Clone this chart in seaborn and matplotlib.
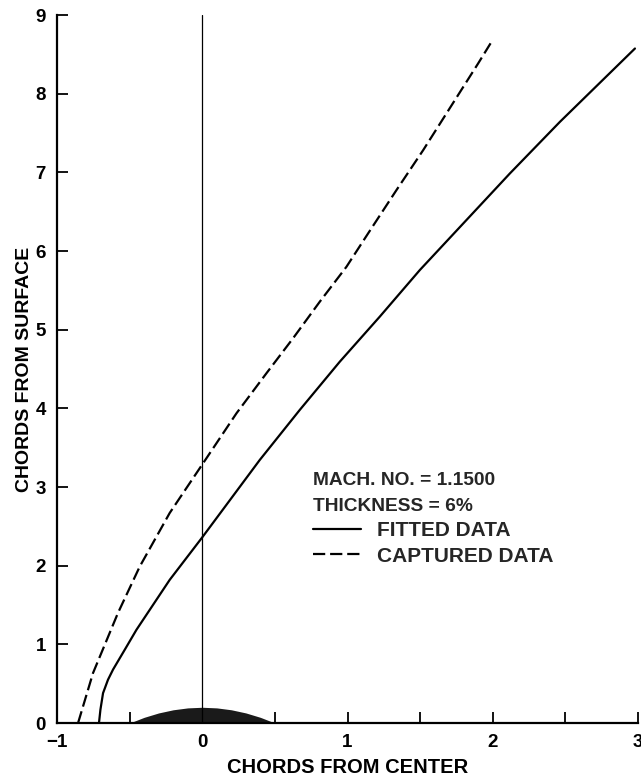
import matplotlib
matplotlib.use("Agg")
import matplotlib.pyplot as plt
import pandas as pd
import seaborn as sns
from matplotlib.ticker import MultipleLocator

# Shock-wave trace above a biconvex section
fitted_x = [-0.711, -0.701, -0.683, -0.649, -0.614, -0.534, -0.453, -0.224, 0.0,
            0.396, 0.671, 0.947, 1.222, 1.498, 2.118, 2.462, 2.979]
fitted_y = [0.0, 0.17, 0.38, 0.55, 0.68, 0.93, 1.185, 1.82, 2.36,
            3.344, 3.979, 4.593, 5.165, 5.758, 6.986, 7.641, 8.574]

captured_x = [-0.855, -0.752, -0.58, -0.43, -0.224, 0.029, 0.236, 0.442, 0.625,
              0.809, 0.993, 1.142, 1.337, 1.521, 1.899, 1.985]
captured_y = [0.0, 0.635, 1.40, 1.99, 2.67, 3.366, 3.938, 4.446, 4.890,
              5.355, 5.800, 6.224, 6.774, 7.282, 8.383, 8.64]

# Upper surface of the airfoil section
airfoil_x = [-0.5, -0.4, -0.3, -0.2, -0.1, 0.0, 0.1, 0.2, 0.3, 0.4, 0.5]
airfoil_y = [0.0, 0.072, 0.128, 0.168, 0.192, 0.2, 0.192, 0.168, 0.128, 0.072, 0.0]

x_ticks = [-1, 0, 1, 2, 3]
y_ticks = [0, 1, 2, 3, 4, 5, 6, 7, 8, 9]

mach_text = "MACH. NO. = 1.1500"
thickness_text = "THICKNESS = 6%"

sns.set_theme(style="ticks")
plt.rcParams["font.family"] = ["Liberation Sans", "DejaVu Sans"]
plt.rcParams["font.weight"] = "bold"
plt.rcParams["axes.labelweight"] = "bold"

fig = plt.figure(figsize=(6.41, 7.81), dpi=100)
ax = fig.add_axes([57 / 641, 58 / 781, 581 / 641, 708 / 781])

fitted = pd.DataFrame({"x": fitted_x, "y": fitted_y})
captured = pd.DataFrame({"x": captured_x, "y": captured_y})

ax.fill_between(airfoil_x, 0, airfoil_y, color="#1a1a1a", lw=0)
ax.axvline(0, color="black", lw=0.9)

sns.lineplot(data=fitted, x="x", y="y", sort=False, estimator=None,
             color="black", lw=1.6, ax=ax, label="FITTED DATA")
sns.lineplot(data=captured, x="x", y="y", sort=False, estimator=None,
             color="black", lw=1.6, linestyle=(0, (5.5, 2.2)), ax=ax,
             label="CAPTURED DATA")

ax.set_xlim(-1, 3)
ax.set_ylim(0, 9)
ax.set_xticks(x_ticks)
ax.set_yticks(y_ticks)
ax.xaxis.set_minor_locator(MultipleLocator(0.5))

sns.despine(ax=ax)
for side in ("left", "bottom"):
    ax.spines[side].set_linewidth(1.6)
    ax.spines[side].set_color("black")

ax.tick_params(which="both", direction="in", length=8, width=1.3, color="black")
ax.tick_params(which="major", labelsize=13.5, pad=8, labelcolor="black")

ax.set_xlabel("CHORDS FROM CENTER", fontsize=14.5, color="black", labelpad=5)
ax.set_ylabel("CHORDS FROM SURFACE", fontsize=14, color="black", labelpad=2)

leg = ax.legend(title=mach_text + "\n" + thickness_text, frameon=False,
                loc="upper left", bbox_to_anchor=(0.441, 0.355),
                fontsize=15, title_fontsize=13.8, alignment="left",
                handlelength=2.3, handletextpad=0.75, labelspacing=0.3,
                borderpad=0, borderaxespad=0)
leg.get_title().set_linespacing(1.72)
leg.get_title().set_fontweight("bold")

fig.savefig("out.png", dpi=100)
